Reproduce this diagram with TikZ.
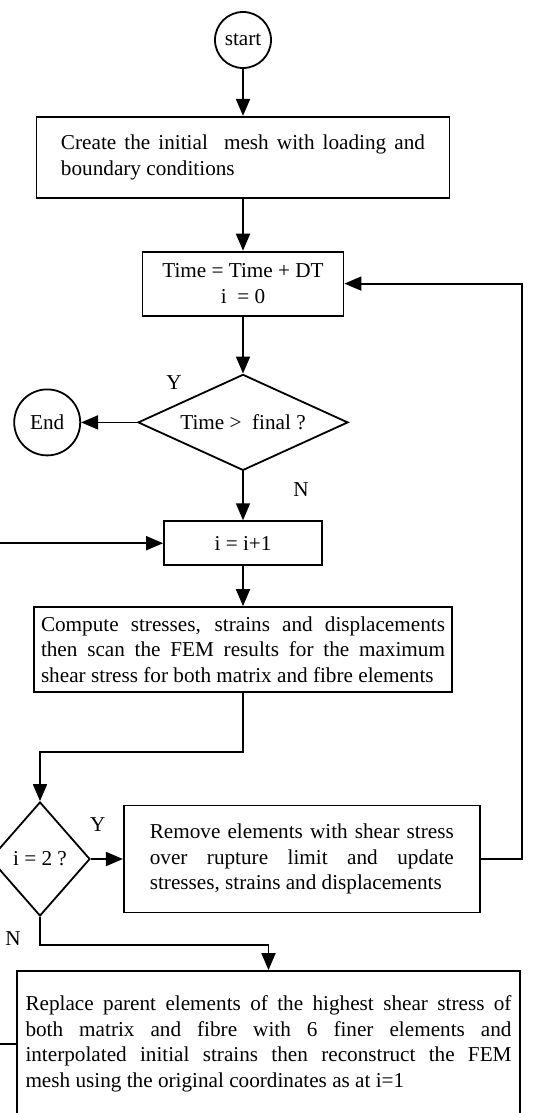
\documentclass[tikz,border=0pt]{standalone}
\usepackage{fontspec}
\setmainfont{Liberation Serif}
\usetikzlibrary{shapes.geometric,arrows.meta,positioning}

\tikzset{
  procbox/.style={draw,rectangle,line width=0.9pt,inner ysep=0pt},
  decision/.style={draw,diamond,line width=0.9pt,inner sep=0pt},
  terminal/.style={draw,circle,line width=0.9pt,inner sep=0pt},
  flow/.style={line width=0.9pt,-{Triangle[length=8.5pt,width=7pt]}},
  lbl/.style={inner sep=0pt}
}

\begin{document}
\begin{tikzpicture}[font=\fontsize{10.6}{12.8}\selectfont]
\useasboundingbox (0,0) rectangle (269.5pt,-556.5pt);
\clip (0,0) rectangle (269.5pt,-556.5pt);
% Main column
\node[terminal,minimum size=28pt] (start) at (121.5pt,-20pt) {start};
\node[procbox,text width=182pt,inner xsep=12.25pt,minimum height=40.5pt,align=justify,below=23.5pt of start] (init) {Create the initial\ \ mesh with loading and\linebreak boundary conditions};
\node[procbox,minimum width=100.5pt,minimum height=32pt,align=center,below=26pt of init] (time) {Time = Time + DT\\i\ \ = 0};
\node[decision,shape aspect=2.19,minimum width=105pt,minimum height=48pt,below=28.5pt of time] (dec1) {Time >\ \ final ?};
\node[terminal,minimum size=33pt,left=28pt of dec1] (end) {End};
\node[procbox,minimum width=79pt,minimum height=22pt,below=24.5pt of dec1] (inc) {i = i+1};
\node[procbox,text width=202pt,inner xsep=3.5pt,minimum height=42.5pt,align=justify,below=20pt of inc] (comp) {Compute stresses, strains and displacements\linebreak then scan the FEM results for the maximum\linebreak shear stress for both matrix and fibre elements};

% Lower part
\node[decision,shape aspect=0.877,minimum width=50pt,minimum height=57pt] (dec2) at (20pt,-429.5pt) {i = 2 ?};
\node[procbox,text width=152pt,inner xsep=13pt,minimum height=53.5pt,align=justify,right=16pt of dec2] (rem) {Remove elements with shear stress\linebreak over rupture limit and update\linebreak stresses, strains and displacements};
\node[procbox,text width=243pt,inner xsep=4.25pt,minimum height=73pt,align=justify] (repl) at (134.25pt,-522pt) {Replace parent elements of the highest shear stress of\linebreak both matrix and fibre with 6 finer elements and\linebreak interpolated initial strains then reconstruct the FEM\linebreak mesh using the original coordinates as at i=1};

% Branch labels
\node[lbl] (y1) at ([xshift=-8pt,yshift=7.5pt]dec1.north west) {Y};
\node[lbl] (n1) at ([xshift=29pt,yshift=-9pt]dec1.south) {N};
\node[lbl] (y2) at ([xshift=3.5pt,yshift=17pt]dec2.east) {Y};
\node[lbl] (n2) at ([xshift=-13.5pt,yshift=-11pt]dec2.south) {N};

\draw[flow] (start) -- (init);
\draw[flow] (init) -- (time);
\draw[flow] (time) -- (dec1);
\draw[flow] (dec1) -- (end);
\draw[flow] (dec1) -- (inc);
\draw[flow] (inc) -- (comp);
\draw[flow] (comp.south) -- ++(0,-29.5pt) -| (dec2.north);
\draw[flow] (dec2) -- (rem);
\draw[flow] (rem.east) -- ++(20.5pt,0) |- (time.east);
\draw[flow] (dec2.south) -- ++(0,-14pt) -| (repl.north);
\draw[flow] (repl.west) -- ++(-20pt,0) |- (inc.west);
\end{tikzpicture}
\end{document}
